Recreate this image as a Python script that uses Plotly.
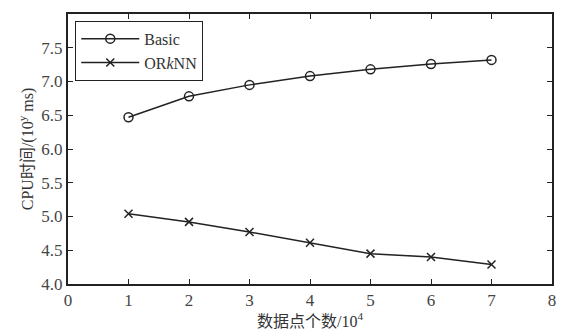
import plotly.graph_objects as go

# Data: number of points (x 10^4) vs CPU time
x_vals = [1, 2, 3, 4, 5, 6, 7]
basic = [6.47, 6.78, 6.95, 7.08, 7.18, 7.26, 7.32]
orknn = [5.04, 4.92, 4.77, 4.61, 4.45, 4.40, 4.29]
x_ticks = [0, 1, 2, 3, 4, 5, 6, 7, 8]
y_ticks = [4.0, 4.5, 5.0, 5.5, 6.0, 6.5, 7.0, 7.5]

FONT = "Liberation Serif, Noto Sans CJK SC, serif"
INK = "#222222"

fig = go.Figure()
fig.add_trace(go.Scatter(
    x=x_vals, y=basic, name="Basic", mode="lines+markers",
    line=dict(color=INK, width=1.5),
    marker=dict(symbol="circle-open", size=9, color=INK, line=dict(width=1.5)),
))
fig.add_trace(go.Scatter(
    x=x_vals, y=orknn, name="OR<i>k</i>NN", mode="lines+markers",
    line=dict(color=INK, width=1.5),
    marker=dict(symbol="x-thin-open", size=8, color=INK, line=dict(width=1.5)),
))

axis_common = dict(
    showgrid=False, zeroline=False, showline=True, mirror="ticks",
    linecolor=INK, linewidth=2, ticks="inside", ticklen=5, tickwidth=1,
    tickcolor=INK, tickfont=dict(family=FONT, size=17, color="#444444"),
)

fig.update_layout(
    width=569, height=336,
    margin=dict(l=68, r=17, t=12, b=49),
    plot_bgcolor="white", paper_bgcolor="white",
    font=dict(family=FONT, color=INK),
    showlegend=True,
    legend=dict(
        x=0.015, y=0.975, xanchor="left", yanchor="top",
        bordercolor=INK, borderwidth=1, bgcolor="white",
        font=dict(family=FONT, size=16, color="#333333"),
        itemwidth=58, tracegroupgap=0,
    ),
    xaxis=dict(
        range=[0, 8], tickvals=x_ticks, ticktext=[str(v) for v in x_ticks],
        title=dict(text="数据点个数/10<sup>4</sup>", font=dict(family=FONT, size=16, color="#333333"), standoff=2),
        **axis_common,
    ),
    yaxis=dict(
        range=[4.0, 8.0], tickvals=y_ticks, ticktext=[f"{v:.1f}" for v in y_ticks],
        title=dict(text="CPU时间/(10<sup>y</sup> ms)", font=dict(family=FONT, size=16, color="#333333"), standoff=4),
        **axis_common,
    ),
)

fig.write_html("out.html")
